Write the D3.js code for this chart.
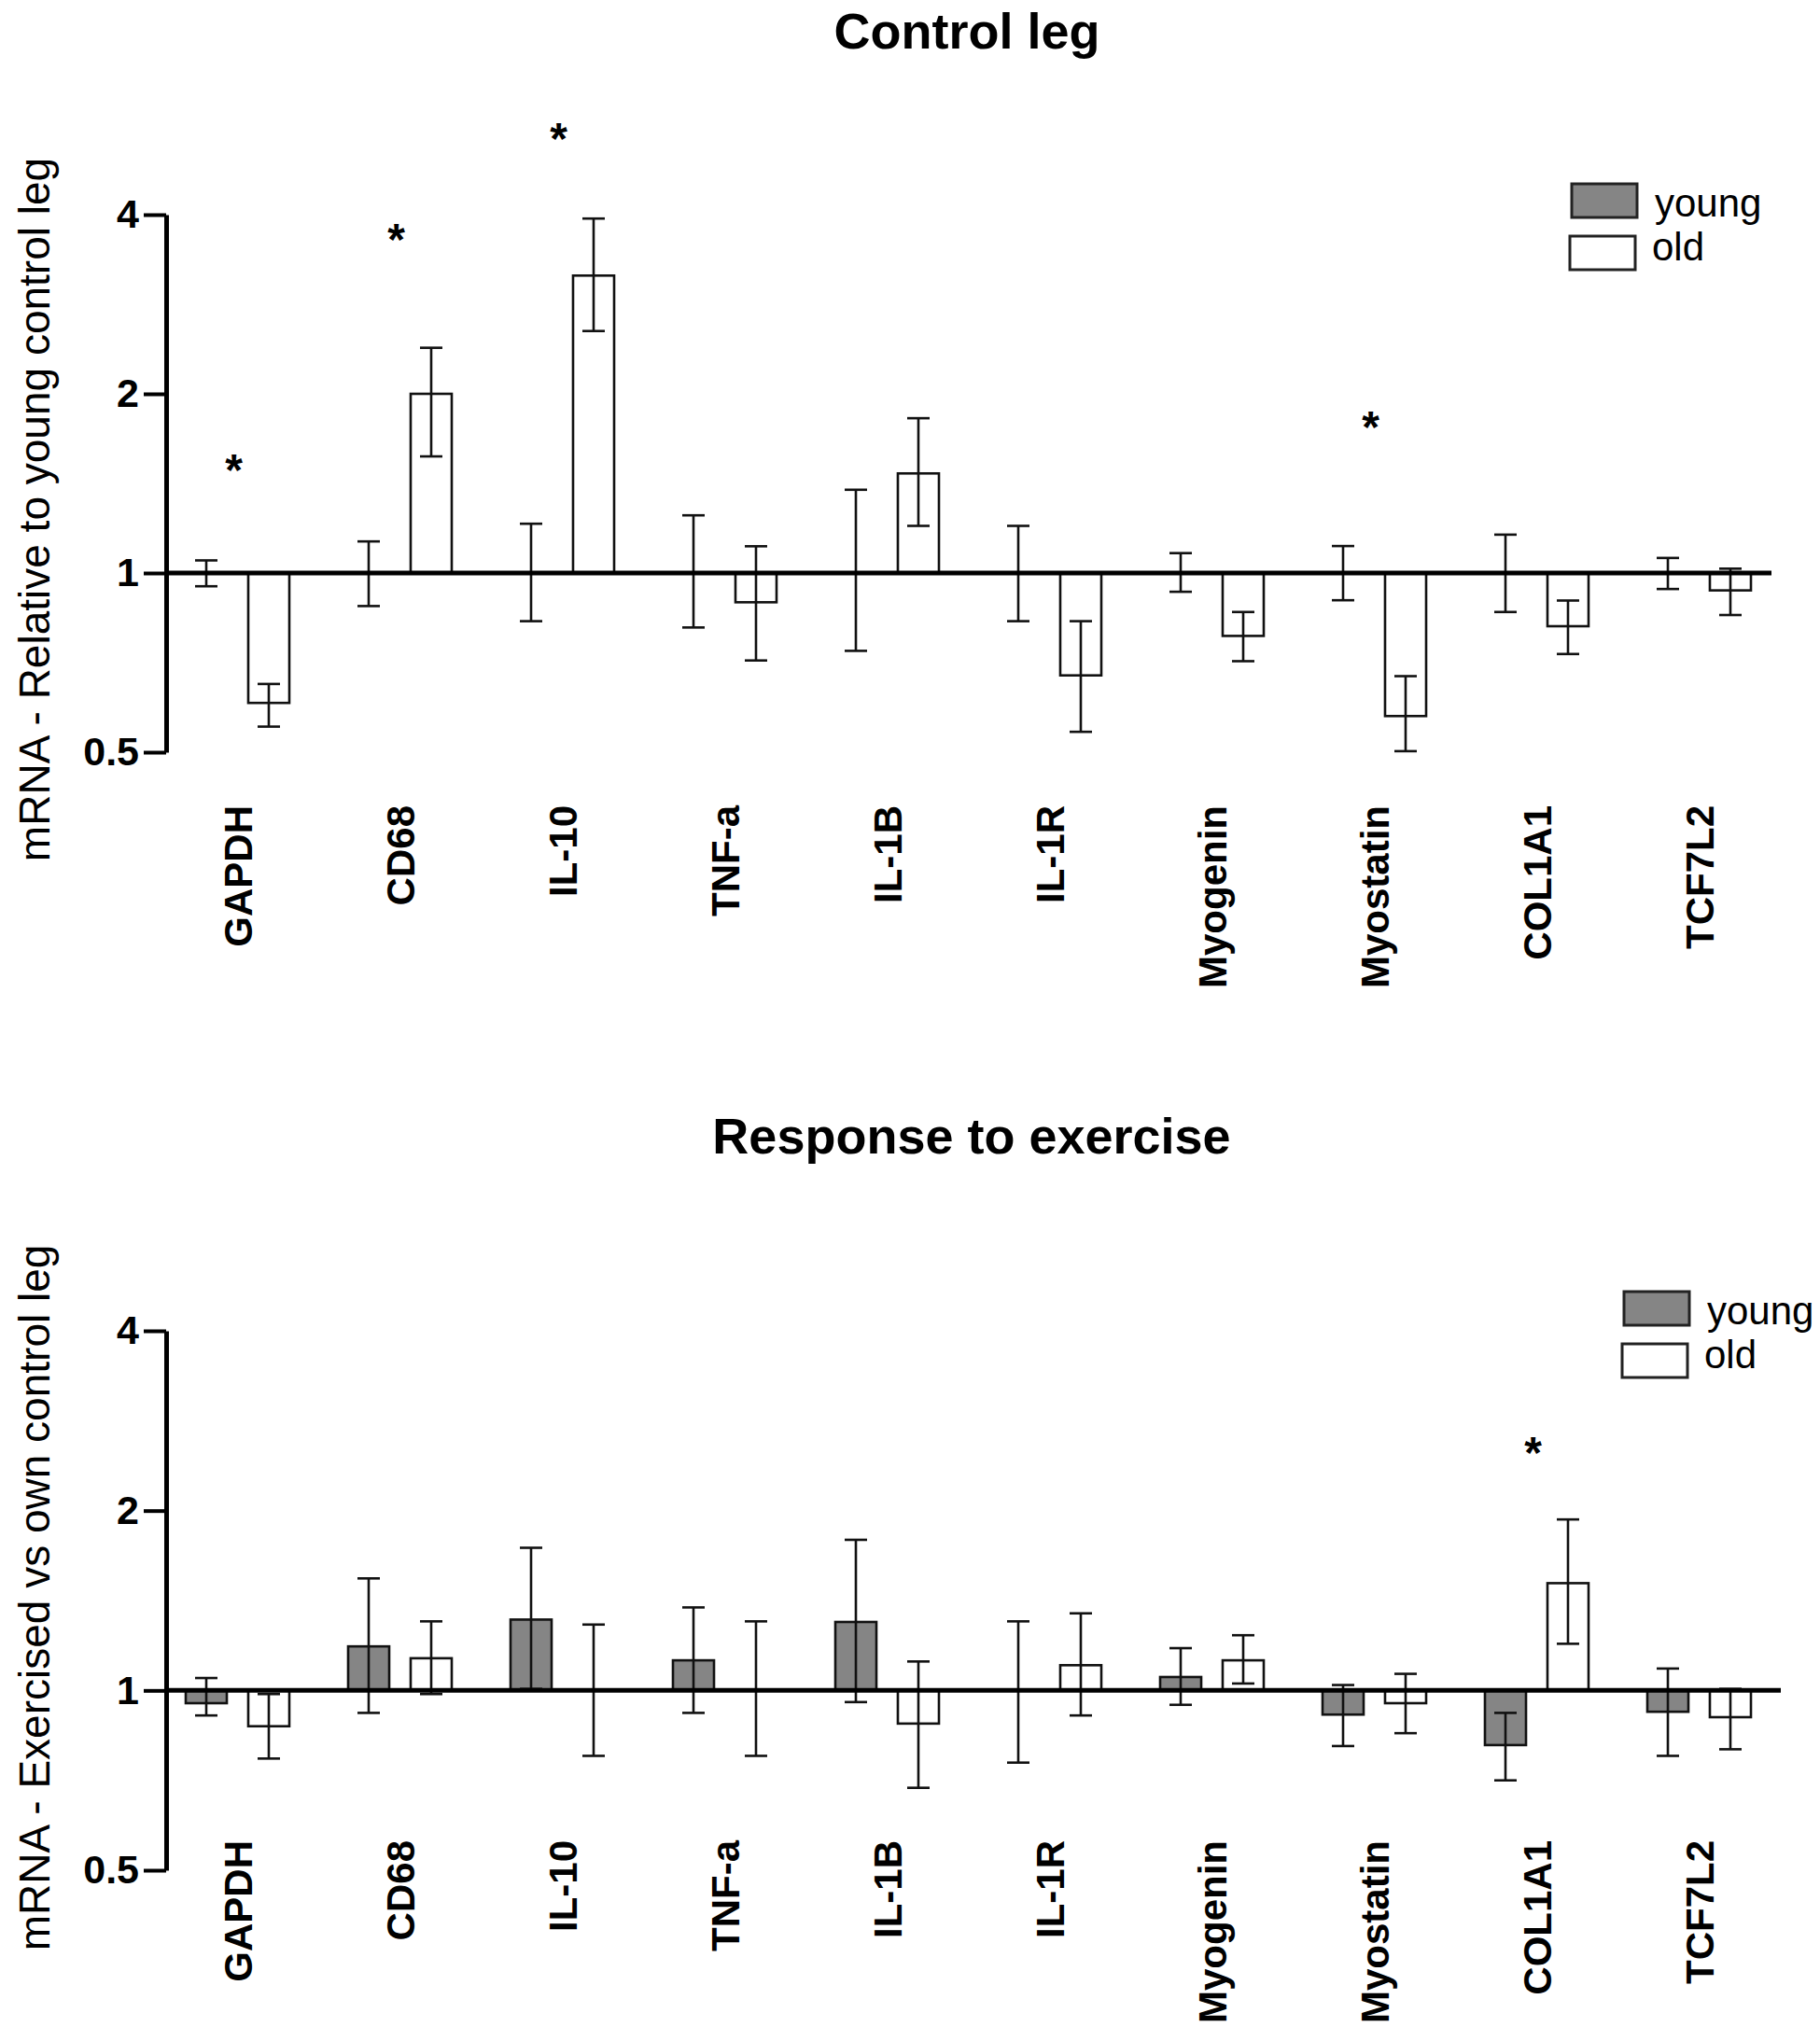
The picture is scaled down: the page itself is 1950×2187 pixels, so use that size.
<!DOCTYPE html>
<html>
<head>
<meta charset="utf-8">
<script src="https://cdn.jsdelivr.net/npm/d3@7"></script>
<style>
  body { margin: 0; background: #fff; }
  svg { display: block; font-family: "Liberation Sans", Arial, Helvetica, sans-serif; }
</style>
</head>
<body>
<div id="chart"></div>
<script>
// genes on the x axis (same for both panels)
let genes = ['GAPDH', 'CD68', 'IL-10', 'TNF-a', 'IL-1B', 'IL-1R', 'Myogenin', 'Myostatin', 'COL1A1', 'TCF7L2'];
let groups = ['young', 'old'];
let yTicks = [0.5, 1, 2, 4];

// Control leg: relative to young control leg
let ctrlYoung   = [1, 1, 1, 1, 1, 1, 1, 1, 1, 1];
let ctrlYoungHi = [1.05, 1.13, 1.21, 1.25, 1.38, 1.20, 1.08, 1.11, 1.16, 1.06];
let ctrlYoungLo = [0.95, 0.88, 0.83, 0.81, 0.74, 0.83, 0.93, 0.90, 0.86, 0.94];
let ctrlOld     = [0.605, 2.0, 3.16, 0.893, 1.47, 0.673, 0.784, 0.575, 0.814, 0.935];
let ctrlOldHi   = [0.651, 2.39, 3.94, 1.109, 1.82, 0.830, 0.860, 0.671, 0.899, 1.017];
let ctrlOldLo   = [0.552, 1.57, 2.55, 0.713, 1.20, 0.541, 0.711, 0.502, 0.731, 0.850];
let ctrlStarGenes = ['GAPDH', 'CD68', 'IL-10', 'Myostatin'];
let ctrlStarLevel = [1.55, 3.78, 5.57, 1.83];

// Response to exercise: exercised vs own control leg
let exYoung   = [0.952, 1.185, 1.314, 1.123, 1.302, 1, 1.053, 0.911, 0.810, 0.921];
let exYoungHi = [1.049, 1.54, 1.733, 1.377, 1.787, 1.305, 1.177, 1.021, 0.917, 1.088];
let exYoungLo = [0.908, 0.917, 1.006, 0.917, 0.956, 0.757, 0.946, 0.807, 0.707, 0.777];
let exOld     = [0.871, 1.132, 1, 1, 0.880, 1.102, 1.123, 0.952, 1.512, 0.902];
let exOldHi   = [0.986, 1.305, 1.289, 1.305, 1.118, 1.346, 1.237, 1.066, 1.933, 1.006];
let exOldLo   = [0.769, 0.986, 0.777, 0.777, 0.687, 0.908, 1.027, 0.848, 1.197, 0.797];
let exStarGenes = ['COL1A1'];
let exStarLevel = [2.60];

const W = 1950, H = 2187;
const fillColor = {young: '#858585', old: '#ffffff'};

let svg = d3.select('#chart').append('svg')
    .attr('width', W)
    .attr('height', H);

let x = d3.scaleBand().domain(genes).range([167.5, 1907.5]);
let xSub = d3.scaleBand().domain(groups).range([31.5, 142.5]).paddingInner(0.343);

function rows(young, youngHi, youngLo, old, oldHi, oldLo) {
    return genes.map((g, i) => [
        {gene: g, group: 'young', v: young[i], hi: youngHi[i], lo: youngLo[i]},
        {gene: g, group: 'old', v: old[i], hi: oldHi[i], lo: oldLo[i]}
    ]).flat();
}

function drawPanel(p) {
    let g = svg.append('g');
    let y = d3.scaleLog().base(2).domain([0.5, 4]).range([p.yBottom, p.yTop]);

    g.append('text')
        .attr('x', p.titleX)
        .attr('y', p.titleY)
        .attr('text-anchor', 'middle')
        .style('font-size', '54px')
        .style('font-weight', 'bold')
        .text(p.title);

    // bars
    let bw = xSub.bandwidth();
    g.selectAll('.bar')
        .data(p.data)
        .enter().append('rect')
        .attr('class', 'bar')
        .attr('x', d => x(d.gene) + xSub(d.group))
        .attr('y', d => Math.min(y(d.v), y(1)))
        .attr('width', bw)
        .attr('height', d => Math.abs(y(d.v) - y(1)))
        .attr('fill', d => fillColor[d.group])
        .attr('stroke', '#111')
        .attr('stroke-width', 2.6);

    // error bars
    let cx = d => x(d.gene) + xSub(d.group) + bw / 2;
    let err = g.selectAll('.err')
        .data(p.data)
        .enter().append('g')
        .attr('class', 'err')
        .attr('stroke', '#111')
        .attr('stroke-width', 2.6);
    err.append('line')
        .attr('x1', cx).attr('x2', cx)
        .attr('y1', d => y(d.hi)).attr('y2', d => y(d.lo));
    err.append('line')
        .attr('x1', d => cx(d) - 12).attr('x2', d => cx(d) + 12)
        .attr('y1', d => y(d.hi)).attr('y2', d => y(d.hi));
    err.append('line')
        .attr('x1', d => cx(d) - 12).attr('x2', d => cx(d) + 12)
        .attr('y1', d => y(d.lo)).attr('y2', d => y(d.lo));

    // line at 1
    g.append('line')
        .attr('x1', 178).attr('x2', p.lineEnd)
        .attr('y1', y(1)).attr('y2', y(1))
        .attr('stroke', '#000')
        .attr('stroke-width', 5);

    // y axis
    let axis = g.append('g')
        .attr('transform', 'translate(178,0)')
        .call(d3.axisLeft(y).tickValues(yTicks).tickFormat(d => d).tickSize(24).tickSizeOuter(0).tickPadding(5));
    axis.select('.domain').attr('stroke', '#000').attr('stroke-width', 5);
    axis.selectAll('.tick line').attr('stroke', '#000').attr('stroke-width', 4);
    axis.selectAll('.tick text')
        .attr('fill', '#000')
        .style('font-size', '43px')
        .style('font-weight', 'bold')
        .style('font-family', '"Liberation Sans", Arial, sans-serif');

    g.append('text')
        .attr('transform', 'translate(53,' + p.yTitleY + ') rotate(-90)')
        .attr('text-anchor', 'middle')
        .style('font-size', '46px')
        .text(p.yTitle);

    // gene labels
    g.selectAll('.geneLabel')
        .data(genes)
        .enter().append('text')
        .attr('class', 'geneLabel')
        .attr('transform', d => 'translate(' + (x(d) + x.bandwidth() / 2 + 15) + ',' + p.labelY + ') rotate(-90)')
        .attr('text-anchor', 'end')
        .style('font-size', '42px')
        .style('font-weight', 'bold')
        .text(d => d);

    // significance stars
    g.selectAll('.star')
        .data(p.stars)
        .enter().append('text')
        .attr('class', 'star')
        .attr('x', d => x(d.gene) + x.bandwidth() / 2 - 4)
        .attr('y', d => y(d.level) + 27)
        .attr('text-anchor', 'middle')
        .style('font-size', '48px')
        .style('font-weight', 'bold')
        .text('*');

    // legend
    let leg = g.selectAll('.legend')
        .data(groups)
        .enter().append('g')
        .attr('class', 'legend')
        .attr('transform', (d, i) => 'translate(' + (p.legX - 2 * i) + ',' + (p.legY + 56 * i) + ')');
    leg.append('rect')
        .attr('width', 70).attr('height', 36)
        .attr('fill', d => fillColor[d])
        .attr('stroke', '#222')
        .attr('stroke-width', 3);
    leg.append('text')
        .attr('x', (d, i) => 89 - i)
        .attr('y', (d, i) => 35 - 9 * i)
        .style('font-size', '42px')
        .text(d => d);
}

drawPanel({
    title: 'Control leg', titleX: 1036, titleY: 52,
    yTop: 230, yBottom: 806, lineEnd: 1898, labelY: 863,
    yTitle: 'mRNA - Relative to young control leg', yTitleY: 546,
    legX: 1684, legY: 197,
    data: rows(ctrlYoung, ctrlYoungHi, ctrlYoungLo, ctrlOld, ctrlOldHi, ctrlOldLo),
    stars: ctrlStarGenes.map((gname, i) => ({gene: gname, level: ctrlStarLevel[i]}))
});

drawPanel({
    title: 'Response to exercise', titleX: 1041, titleY: 1236,
    yTop: 1426, yBottom: 2004, lineEnd: 1908, labelY: 1972,
    yTitle: 'mRNA - Exercised vs own control leg', yTitleY: 1712,
    legX: 1740, legY: 1384,
    data: rows(exYoung, exYoungHi, exYoungLo, exOld, exOldHi, exOldLo),
    stars: exStarGenes.map((gname, i) => ({gene: gname, level: exStarLevel[i]}))
});
</script>
</body>
</html>
